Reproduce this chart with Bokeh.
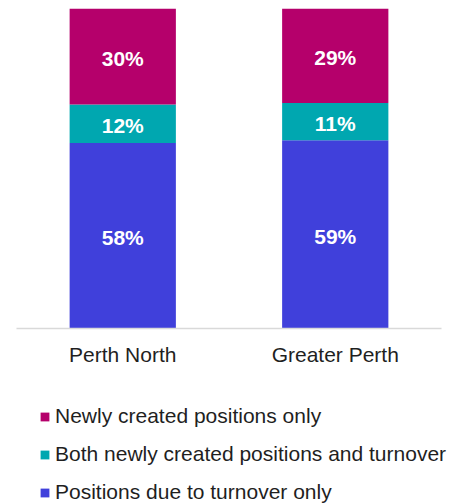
from bokeh.plotting import figure
from bokeh.models import ColumnDataSource, FactorRange, Range1d, Legend, LegendItem
from bokeh.layouts import column
from bokeh.core.properties import value
from bokeh.embed import file_html
from bokeh.resources import INLINE

categories = ["Perth North", "Greater Perth"]
turnover_only = [58.0, 58.8]
both = [12.0, 11.7]
newly_only = [30.0, 29.5]
turnover_labels = ["58%", "59%"]
both_labels = ["12%", "11%"]
newly_labels = ["30%", "29%"]

series_names = ["Positions due to turnover only",
                "Both newly created positions and turnover",
                "Newly created positions only"]
colors = ["#4040DB", "#00A7B0", "#B5006B"]

FONT = "Liberation Sans"
TEXT_COLOR = "#1F1F1F"

src = ColumnDataSource(dict(
    cat=categories,
    turnover=turnover_only,
    both=both,
    newly=newly_only,
))

p = figure(x_range=FactorRange(*categories), y_range=Range1d(0, 100),
           width=462, height=380, output_backend="svg", toolbar_location=None,
           y_axis_type=None, min_border_left=16, min_border_right=21,
           min_border_top=8, min_border_bottom=52)
p.frame_align = False
p.outline_line_color = None
p.xgrid.visible = False
p.ygrid.visible = False
p.background_fill_color = "white"
p.border_fill_color = "white"

rs = p.vbar_stack(["turnover", "both", "newly"], x="cat", width=0.5, source=src,
                  color=colors, line_color=None)

# segment label positions computed from data
for vals_lo, vals, labs in [
    ([0, 0], turnover_only, turnover_labels),
    (turnover_only, both, both_labels),
    ([a + b for a, b in zip(turnover_only, both)], newly_only, newly_labels),
]:
    ys = [lo + v / 2 for lo, v in zip(vals_lo, vals)]
    s = ColumnDataSource(dict(cat=categories, y=ys, t=labs))
    p.text(x="cat", y="y", text="t", source=s, text_align="center",
           text_baseline="middle", text_color="white", text_font=value(FONT),
           text_font_style="bold", text_font_size="21px", y_offset=2)

ax = p.xaxis[0]
ax.axis_line_color = "#D9D9D9"
ax.axis_line_width = 1.5
ax.major_tick_line_color = None
ax.major_tick_out = 0
ax.major_tick_in = 0
ax.major_label_standoff = 14
ax.major_label_text_font = FONT
ax.major_label_text_font_size = "21px"
ax.major_label_text_color = TEXT_COLOR

# legend strip below the chart: same stacked series, but its y range lies above
# the data so only the legend swatches show
lg = figure(width=462, height=124, output_backend="svg", toolbar_location=None,
            x_range=FactorRange(*categories), y_range=Range1d(101, 102),
            x_axis_type=None, y_axis_type=None, min_border=0)
lg.frame_align = False
lg.outline_line_color = None
lg.xgrid.visible = False
lg.ygrid.visible = False
lg.background_fill_color = "white"
lg.border_fill_color = "white"

swatches = lg.vbar_stack(["turnover", "both", "newly"], x="cat", width=0.5,
                         source=src, color=colors, line_color=None)
items = [LegendItem(label=series_names[i], renderers=[swatches[i]]) for i in [2, 1, 0]]
legend = Legend(items=items, location=(39, 0), orientation="vertical",
                margin=0, padding=0, spacing=14, label_height=24,
                glyph_width=11, glyph_height=11, label_standoff=5,
                label_text_font=FONT, label_text_font_size="21px",
                label_text_color=TEXT_COLOR,
                background_fill_alpha=0, border_line_alpha=0)
lg.add_layout(legend, "center")

layout = column(p, lg, spacing=0)
open("out.html", "w").write(file_html(layout, INLINE))
